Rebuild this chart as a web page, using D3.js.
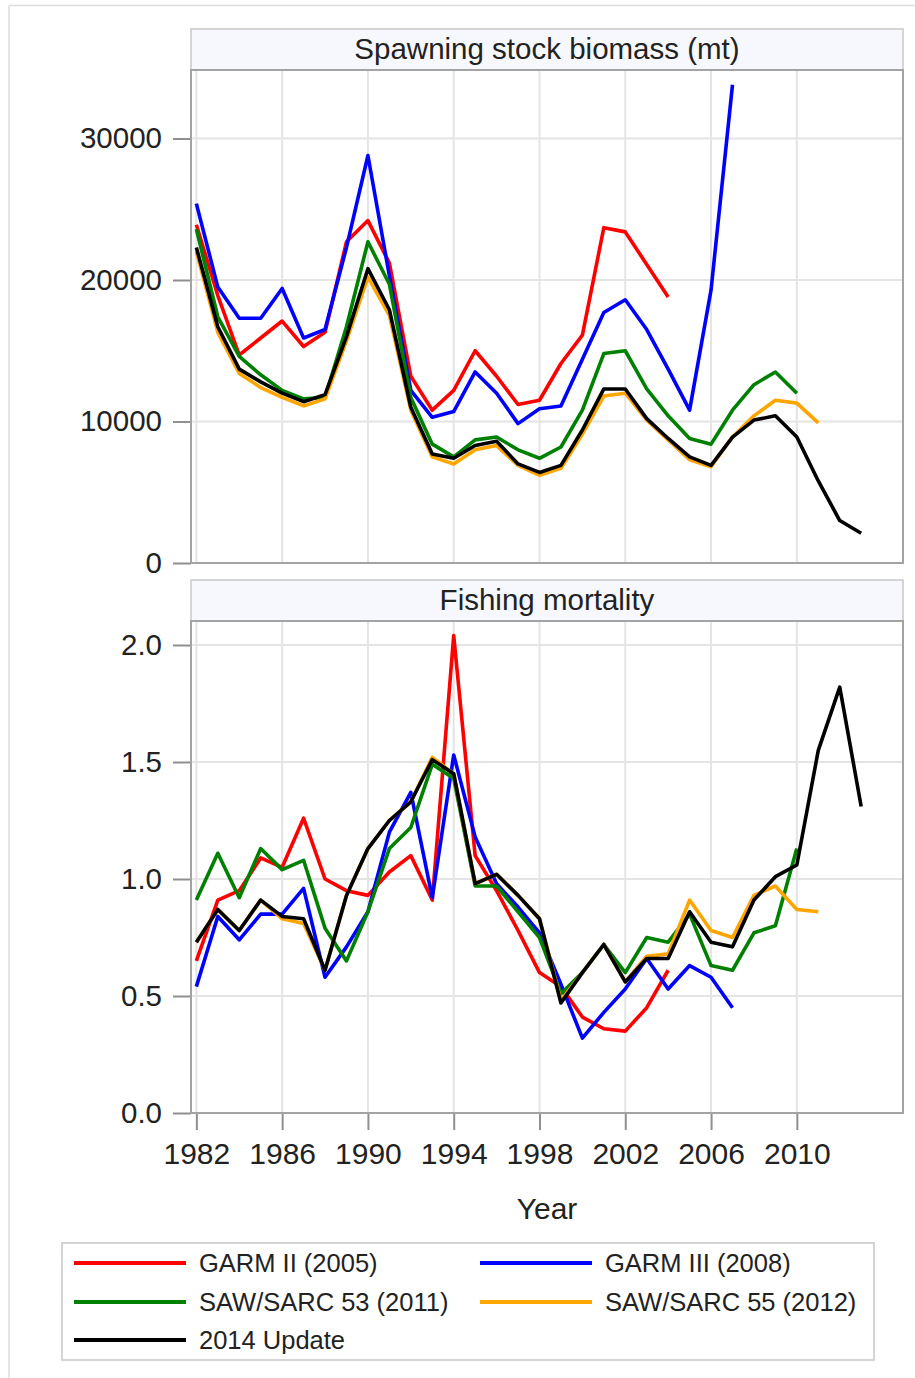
<!DOCTYPE html>
<html><head><meta charset="utf-8">
<script src="https://cdn.jsdelivr.net/npm/d3@7"></script>
<style>body{margin:0;background:#fff}svg{display:block}text{font-family:"Liberation Sans",Arial,sans-serif;fill:#222}</style>
</head><body><div id="c"></div>
<script>
const years = d3.range(1982, 2014);
const seriesNames = ["GARM II (2005)", "GARM III (2008)", "SAW/SARC 53 (2011)", "SAW/SARC 55 (2012)", "2014 Update"];
const seriesColors = ["#ff0000", "#0000ff", "#008000", "#ffa500", "#000000"];
const xTicks = [1982, 1986, 1990, 1994, 1998, 2002, 2006, 2010];
const ssbTicks = [0, 10000, 20000, 30000];
const fTicks = [0, 0.5, 1.0, 1.5, 2.0];
const panelTitles = ["Spawning stock biomass (mt)", "Fishing mortality"];

// SSB (mt), starting 1982
const ssbGarm2 = [23900,18900,14700,15900,17100,15300,16300,22700,24200,21200,13200,10800,12200,15000,13200,11200,11500,14100,16100,23700,23400,21100,18800];
const ssbGarm3 = [25400,19500,17300,17300,19400,15900,16500,22300,28800,20300,12200,10300,10700,13500,12000,9850,10900,11100,14400,17700,18600,16500,13700,10800,19300,33800];
const ssbSaw53 = [23600,17400,14600,13300,12200,11600,11700,16700,22700,19700,11700,8400,7500,8700,8900,8000,7400,8200,10800,14800,15000,12300,10400,8800,8400,10800,12600,13500,12000];
const ssbSaw55 = [22000,16300,13400,12400,11700,11100,11600,15700,20200,17500,10800,7500,7000,8000,8300,6900,6200,6700,9100,11800,12000,10100,8700,7300,6800,8900,10400,11500,11300,9900];
const ssb2014 = [22300,16700,13700,12800,12000,11400,11900,16000,20800,17900,11000,7700,7400,8300,8600,7000,6400,6900,9400,12300,12300,10200,8800,7500,6900,8900,10100,10400,8900,5800,3000,2100];

// Fishing mortality, starting 1982
const fGarm2 = [0.65,0.91,0.95,1.09,1.05,1.26,1.00,0.95,0.93,1.03,1.10,0.91,2.04,1.10,0.95,0.78,0.60,0.54,0.41,0.36,0.35,0.45,0.61];
const fGarm3 = [0.54,0.84,0.74,0.85,0.85,0.96,0.58,0.71,0.86,1.20,1.37,0.92,1.53,1.18,0.98,0.88,0.77,0.55,0.32,0.43,0.53,0.66,0.53,0.63,0.58,0.45];
const fSaw53 = [0.91,1.11,0.92,1.13,1.04,1.08,0.79,0.65,0.86,1.13,1.22,1.49,1.43,0.97,0.97,0.86,0.75,0.51,0.60,0.72,0.60,0.75,0.73,0.85,0.63,0.61,0.77,0.80,1.13];
const fSaw55 = [0.73,0.87,0.78,0.91,0.83,0.81,0.61,0.93,1.13,1.25,1.33,1.52,1.45,0.98,1.02,0.93,0.83,0.48,0.60,0.72,0.56,0.67,0.68,0.91,0.78,0.75,0.93,0.97,0.87,0.86];
const f2014 = [0.73,0.87,0.78,0.91,0.84,0.83,0.61,0.93,1.13,1.25,1.33,1.51,1.45,0.98,1.02,0.93,0.83,0.47,0.60,0.72,0.56,0.66,0.66,0.86,0.73,0.71,0.91,1.01,1.06,1.55,1.82,1.31];

const W = 915, H = 1378;
const svg = d3.select("#c").append("svg").attr("width", W).attr("height", H);
svg.append("rect").attr("width", W).attr("height", H).attr("fill", "#fff");
// outer frame
svg.append("line").attr("x1", 9).attr("x2", W).attr("y1", 5.5).attr("y2", 5.5).attr("stroke", "#dcdcdc").attr("stroke-width", 1.5);
svg.append("line").attr("x1", 9).attr("x2", 9).attr("y1", 5.5).attr("y2", H).attr("stroke", "#dcdcdc").attr("stroke-width", 1.5);

const PL = 191, PR = 903;
const x = d3.scaleLinear().domain([1981.75, 2014.95]).range([PL, PR]);

const panels = [
  {title: panelTitles[0], hy0: 29, top: 70, bottom: 563, data: [ssbGarm2, ssbGarm3, ssbSaw53, ssbSaw55, ssb2014], ticks: ssbTicks, fmt: d3.format("d"), dom: [0, 30000], r1: 138.5, xAxis: false},
  {title: panelTitles[1], hy0: 580, top: 621, bottom: 1113, data: [fGarm2, fGarm3, fSaw53, fSaw55, f2014], ticks: fTicks, fmt: d3.format(".1f"), dom: [0, 2.0], r1: 645, xAxis: true}
];

panels.forEach(p => {
  const y = d3.scaleLinear().domain(p.dom).range([p.bottom, p.r1]);
  const g = svg.append("g");
  // header
  g.append("rect").attr("x", PL).attr("y", p.hy0).attr("width", PR - PL).attr("height", p.top - p.hy0)
    .attr("fill", "#f7f8fd").attr("stroke", "#c9c9c9").attr("stroke-width", 1.5);
  g.append("text").attr("x", (PL + PR) / 2).attr("y", p.hy0 + 30).attr("text-anchor", "middle")
    .attr("font-size", 29.5).text(p.title);
  // grid
  g.append("g").selectAll("line").data(p.ticks).join("line")
    .attr("x1", PL).attr("x2", PR).attr("y1", d => y(d)).attr("y2", d => y(d))
    .attr("stroke", "#e4e4e4").attr("stroke-width", 2);
  g.append("g").selectAll("line").data(xTicks).join("line")
    .attr("x1", d => x(d)).attr("x2", d => x(d)).attr("y1", p.top).attr("y2", p.bottom)
    .attr("stroke", "#e4e4e4").attr("stroke-width", 2);
  // y axis
  const ya = g.append("g").attr("transform", `translate(${PL},0)`)
    .call(d3.axisLeft(y).tickValues(p.ticks).tickFormat(p.fmt).tickSize(18).tickPadding(11));
  ya.select(".domain").remove();
  ya.selectAll(".tick line").attr("stroke", "#8f8f8f").attr("stroke-width", 2);
  ya.selectAll(".tick text").attr("font-size", 29.5).attr("fill", "#222").style("font-family", '"Liberation Sans",Arial,sans-serif');
  if (p.xAxis) {
    const xa = g.append("g").attr("transform", `translate(0,${p.bottom})`)
      .call(d3.axisBottom(x).tickValues(xTicks).tickFormat(d3.format("d")).tickSize(17).tickPadding(13));
    xa.select(".domain").remove();
    xa.selectAll(".tick line").attr("stroke", "#8f8f8f").attr("stroke-width", 2);
    xa.selectAll(".tick text").attr("font-size", 30).attr("fill", "#222").style("font-family", '"Liberation Sans",Arial,sans-serif');
  }
  // lines
  const line = d3.line().defined(d => d[1] != null).x(d => x(d[0])).y(d => y(d[1]));
  p.data.forEach((arr, i) => {
    const pts = arr.map((v, j) => [years[j], v]);
    g.append("path").attr("d", line(pts)).attr("fill", "none")
      .attr("stroke", seriesColors[i]).attr("stroke-width", 3.6).attr("stroke-linejoin", "round");
  });
  // plot border
  g.append("rect").attr("x", PL).attr("y", p.top).attr("width", PR - PL).attr("height", p.bottom - p.top)
    .attr("fill", "none").attr("stroke", "#a3a3a3").attr("stroke-width", 2);
});

svg.append("text").attr("x", (PL + PR) / 2).attr("y", 1219).attr("text-anchor", "middle").attr("font-size", 30).text("Year");

// legend
const lg = svg.append("g");
lg.append("rect").attr("x", 62).attr("y", 1243).attr("width", 812).attr("height", 117)
  .attr("fill", "#fff").attr("stroke", "#d4d4d4").attr("stroke-width", 2);
const legPos = [[74, 1263], [480, 1263], [74, 1302], [480, 1302], [74, 1340]];
seriesNames.forEach((n, i) => {
  const [lx, ly] = legPos[i];
  lg.append("line").attr("x1", lx).attr("x2", lx + 112).attr("y1", ly).attr("y2", ly)
    .attr("stroke", seriesColors[i]).attr("stroke-width", 3.8);
  lg.append("text").attr("x", lx + 125).attr("y", ly + 9).attr("font-size", 25.5).text(n);
});
</script></body></html>
